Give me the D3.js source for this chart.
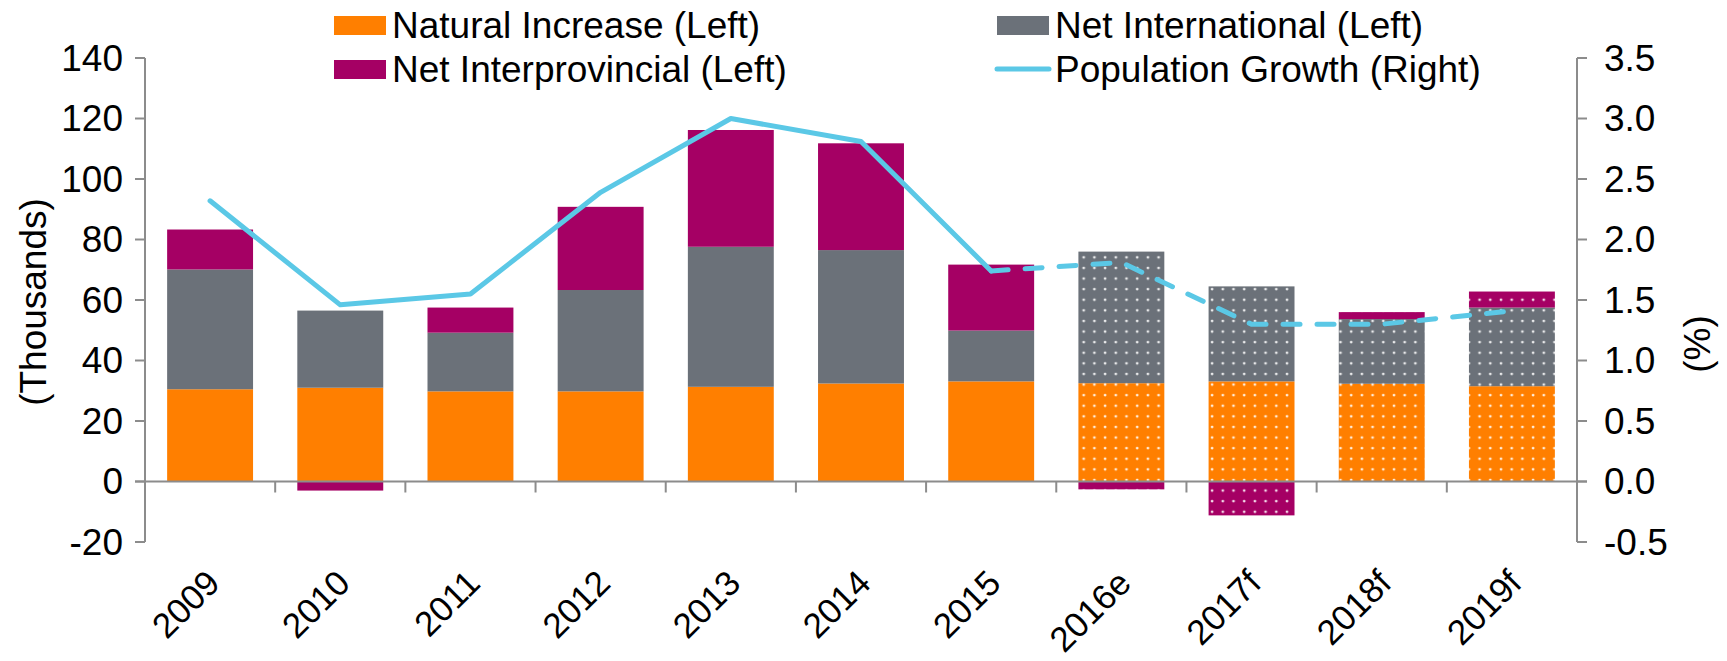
<!DOCTYPE html>
<html>
<head>
<meta charset="utf-8">
<script src="https://cdn.jsdelivr.net/npm/d3@7"></script>
<style>
  html, body { margin: 0; padding: 0; background: #fff; }
  svg { display: block; font-family: "Liberation Sans", Arial, sans-serif; }
</style>
</head>
<body>
<svg id="chart" width="1727" height="661"></svg>
<script>
// Data
const years = ['2009', '2010', '2011', '2012', '2013', '2014', '2015', '2016e', '2017f', '2018f', '2019f'];
const naturalIncrease = [30.5, 31, 29.8, 29.8, 31.3, 32.4, 33.1, 32.5, 33.1, 32.3, 31.5];
const netInternational = [39.6, 25.5, 19.4, 33.5, 46.3, 44.1, 16.8, 43.5, 31.4, 21.4, 26.0];
const netInterprovincial = [13.2, -3, 8.3, 27.5, 38.6, 35.3, 21.8, -2.6, -11.2, 2.3, 5.3];
const populationGrowth = [2.32, 1.46, 1.55, 2.39, 3.0, 2.81, 1.74, 1.81, 1.30, 1.30, 1.41];
const firstForecast = 7; // 2016e onward drawn with dotted pattern / dashed line

const leftTicks = [-20, 0, 20, 40, 60, 80, 100, 120, 140];
const rightTicks = [-0.5, 0, 0.5, 1, 1.5, 2, 2.5, 3, 3.5];

const seriesKeys = ['natural', 'international', 'interprovincial'];
const seriesNames = ['Natural Increase (Left)', 'Net International (Left)', 'Net Interprovincial (Left)'];
const seriesColors = ['#ff7f00', '#6b7179', '#a50064'];
const lineName = 'Population Growth (Right)';
const lineColor = '#5bc8e6';

const svg = d3.select('#chart');
const axisColor = '#8c8c8c';
const fontSize = 37;

// Layout
const plotLeft = 145, plotRight = 1577, plotTop = 58, plotBottom = 542;

const x = d3.scaleBand()
    .domain(years)
    .range([plotLeft, plotRight])
    .paddingInner(0.34)
    .paddingOuter(0.17);

const yL = d3.scaleLinear().domain([-20, 140]).range([plotBottom, plotTop]);
const yR = d3.scaleLinear().domain([-0.5, 3.5]).range([plotBottom, plotTop]);

// Dotted patterns for forecast bars
const defs = svg.append('defs');
seriesColors.forEach((c, i) => {
    const p = defs.append('pattern')
        .attr('id', 'dots' + i)
        .attr('patternUnits', 'userSpaceOnUse')
        .attr('width', 10.7)
        .attr('height', 10.6);
    p.append('rect').attr('width', 10.7).attr('height', 10.6).attr('fill', c);
    p.append('circle').attr('cx', 3).attr('cy', 3).attr('r', 1.4).attr('fill', '#fff').attr('opacity', 0.85);
});

// Stack data
const rows = years.map((yr, i) => ({
    year: yr,
    natural: naturalIncrease[i],
    international: netInternational[i],
    interprovincial: netInterprovincial[i]
}));

const stacked = d3.stack()
    .keys(seriesKeys)
    .offset(d3.stackOffsetDiverging)(rows);

// Bars
stacked.forEach((layer, si) => {
    svg.append('g')
        .selectAll('rect')
        .data(layer)
        .enter()
        .append('rect')
        .attr('x', d => x(d.data.year))
        .attr('width', x.bandwidth())
        .attr('y', d => yL(Math.max(d[0], d[1])))
        .attr('height', d => Math.abs(yL(d[0]) - yL(d[1])))
        .attr('fill', (d, i) => i >= firstForecast ? `url(#dots${si})` : seriesColors[si]);
});

// Axes
const axes = svg.append('g').attr('stroke', axisColor).attr('stroke-width', 2);

// left axis
axes.append('line').attr('x1', plotLeft).attr('x2', plotLeft).attr('y1', yL(140)).attr('y2', yL(-20));
axes.selectAll('.lt').data(leftTicks).enter().append('line')
    .attr('x1', plotLeft - 10).attr('x2', plotLeft)
    .attr('y1', d => yL(d)).attr('y2', d => yL(d));

// right axis
axes.append('line').attr('x1', plotRight).attr('x2', plotRight).attr('y1', yR(3.5)).attr('y2', yR(-0.5));
axes.selectAll('.rt').data(rightTicks).enter().append('line')
    .attr('x1', plotRight).attr('x2', plotRight + 10)
    .attr('y1', d => yR(d)).attr('y2', d => yR(d));

// category axis at zero
const zeroY = yL(0);
axes.append('line').attr('x1', plotLeft - 10).attr('x2', plotRight + 10).attr('y1', zeroY).attr('y2', zeroY);
const boundaries = years.map(yr => x(yr) - x.step() * x.paddingInner() / 2).concat([plotRight]);
axes.selectAll('.xt').data(boundaries).enter().append('line')
    .attr('x1', d => d).attr('x2', d => d)
    .attr('y1', zeroY).attr('y2', zeroY + 11);

// Tick labels
svg.append('g').selectAll('text').data(leftTicks).enter().append('text')
    .attr('x', plotLeft - 22).attr('y', d => yL(d))
    .attr('dy', '0.35em').attr('text-anchor', 'end')
    .attr('font-size', fontSize).attr('fill', '#000')
    .text(d => d);

svg.append('g').selectAll('text').data(rightTicks).enter().append('text')
    .attr('x', plotRight + 27).attr('y', d => yR(d))
    .attr('dy', '0.35em').attr('text-anchor', 'start')
    .attr('font-size', fontSize).attr('fill', '#000')
    .text(d => d.toFixed(1));

svg.append('g').selectAll('text').data(years).enter().append('text')
    .attr('transform', d => `translate(${x(d) + x.bandwidth() / 2 + 3},${zeroY + 95}) rotate(-45)`)
    .attr('text-anchor', 'end')
    .attr('dy', '0.35em')
    .attr('font-size', 35).attr('fill', '#000')
    .text(d => d);

// Axis titles
svg.append('text')
    .attr('transform', `translate(33,${(plotTop + plotBottom) / 2 + 2}) rotate(-90)`)
    .attr('text-anchor', 'middle').attr('dy', '0.35em')
    .attr('font-size', fontSize)
    .text('(Thousands)');

svg.append('text')
    .attr('transform', `translate(1697,344) rotate(-90)`)
    .attr('text-anchor', 'middle').attr('dy', '0.35em')
    .attr('font-size', fontSize)
    .text('(%)');

// Population growth line
const cx = d => x(d) + x.bandwidth() / 2;
const pts = years.map((yr, i) => [cx(yr), yR(populationGrowth[i])]);
const line = d3.line();

svg.append('path')
    .attr('d', line(pts.slice(0, firstForecast)))
    .attr('fill', 'none')
    .attr('stroke', lineColor)
    .attr('stroke-width', 5)
    .attr('stroke-linejoin', 'round')
    .attr('stroke-linecap', 'round');

svg.append('path')
    .attr('d', line(pts.slice(firstForecast - 1)))
    .attr('fill', 'none')
    .attr('stroke', lineColor)
    .attr('stroke-width', 5)
    .attr('stroke-dasharray', '17,17')
    .attr('stroke-linecap', 'round');

// Legend
const legendItems = [
    { name: seriesNames[0], type: 'rect', color: seriesColors[0], x: 334, y: 25 },
    { name: seriesNames[1], type: 'rect', color: seriesColors[1], x: 997, y: 25 },
    { name: seriesNames[2], type: 'rect', color: seriesColors[2], x: 334, y: 69 },
    { name: lineName, type: 'line', color: lineColor, x: 997, y: 69 }
];

const lg = svg.append('g').selectAll('g').data(legendItems).enter().append('g')
    .attr('transform', d => `translate(${d.x},${d.y})`);

lg.filter(d => d.type === 'rect').append('rect')
    .attr('x', 0).attr('y', -9).attr('width', 52).attr('height', 19)
    .attr('fill', d => d.color);

lg.filter(d => d.type === 'line').append('line')
    .attr('x1', 0).attr('x2', 52).attr('y1', 0).attr('y2', 0)
    .attr('stroke', d => d.color).attr('stroke-width', 5).attr('stroke-linecap', 'round');

lg.append('text')
    .attr('x', 58).attr('y', 0).attr('dy', '0.35em')
    .attr('font-size', fontSize)
    .text(d => d.name);
</script>
</body>
</html>
